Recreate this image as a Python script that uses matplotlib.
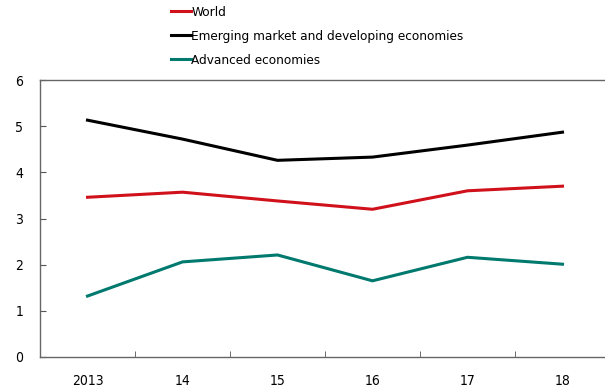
import matplotlib.pyplot as plt
import numpy as np

plt.rcParams['font.family'] = ['DejaVu Sans']
plt.rcParams['font.stretch'] = 'condensed'

years = ['2013', '14', '15', '16', '17', '18']
world = [3.46, 3.57, 3.38, 3.20, 3.60, 3.70]
emde = [5.13, 4.72, 4.26, 4.33, 4.59, 4.87]
advanced = [1.32, 2.06, 2.21, 1.65, 2.16, 2.01]

fig = plt.figure(figsize=(6.05, 3.91), dpi=100)
ax = fig.add_axes([40 / 605, 1 - 357 / 391, 570 / 605, 277 / 391])

x = np.arange(len(years))
ax.plot(x, world, color='#d0111b', lw=2.2, label='World')
ax.plot(x, emde, color='#000000', lw=2.2, label='Emerging market and developing economies')
ax.plot(x, advanced, color='#00796e', lw=2.2, label='Advanced economies')

ax.set_xlim(-0.5, 5.5)
ax.set_ylim(0, 6)
ax.set_yticks(range(7))
ax.set_xticks(x)
ax.set_xticklabels(years)
ax.set_xticks(x[:-1] + 0.5, minor=True)
ax.tick_params(axis='x', which='major', length=0, pad=12, labelsize=10)
ax.tick_params(axis='x', which='minor', direction='in', length=4, color='#555555')
ax.tick_params(axis='y', direction='in', length=4, color='#555555', labelsize=10, pad=12)

ax.spines['right'].set_visible(False)
for s in ('left', 'bottom', 'top'):
    ax.spines[s].set_color('#666666')
    ax.spines[s].set_linewidth(1.0)

leg = fig.legend(loc='upper left', bbox_to_anchor=(163 / 605, 1.005), frameon=False,
                 fontsize=9.7, handlelength=1.45, handletextpad=0.05, labelspacing=0.8,
                 borderaxespad=0.2)

fig.savefig('out.png', dpi=100)
